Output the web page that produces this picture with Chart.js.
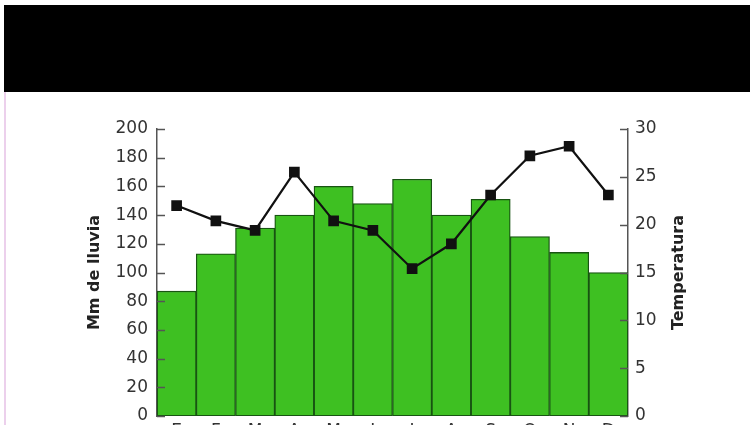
<!DOCTYPE html>
<html>
<head>
<meta charset="utf-8">
<script src="https://cdn.jsdelivr.net/npm/chart.js@4/dist/chart.umd.min.js"></script>
<style>
  html, body { margin: 0; padding: 0; background: #fff; width: 750px; height: 425px; overflow: hidden; }
  #band { position: absolute; left: 4px; top: 5px; width: 746px; height: 87px; background: #000; }
  #edge { position: absolute; left: 4px; top: 92px; width: 2px; height: 333px; background: #ecd0ec; }
  #wrap { position: absolute; left: 0; top: 0; width: 750px; height: 460px; }
</style>
</head>
<body>
<div id="band"></div>
<div id="edge"></div>
<div id="wrap"><canvas id="climograma" width="750" height="460"></canvas></div>
<script>
// meses (etiquetas del eje x)
const meses = ['E', 'F', 'M', 'A', 'M', 'J', 'J', 'A', 'S', 'O', 'N', 'D'];
// precipitación mensual (mm)
const lluvia = [87, 113, 131, 140, 160, 148, 165, 140, 151, 125, 114, 100];
// temperatura media (ºC)
const temperatura = [22, 20.4, 19.4, 25.5, 20.4, 19.4, 15.4, 18, 23.1, 27.2, 28.2, 23.1];

const tickFont = { family: 'DejaVu Sans', size: 17 };

// ticks hacia dentro + títulos de los ejes
const axisExtras = {
  id: 'axisExtras',
  afterDraw(chart) {
    const ctx = chart.ctx;
    const area = chart.chartArea;
    const y = chart.scales.y, y1 = chart.scales.y1;
    ctx.save();
    ctx.strokeStyle = '#555';
    ctx.lineWidth = 1.5;
    y.ticks.forEach(t => {
      const py = Math.round(y.getPixelForValue(t.value)) + 0.5;
      ctx.beginPath(); ctx.moveTo(area.left, py); ctx.lineTo(area.left + 8, py); ctx.stroke();
    });
    y1.ticks.forEach(t => {
      const py = Math.round(y1.getPixelForValue(t.value)) + 0.5;
      ctx.beginPath(); ctx.moveTo(area.right, py); ctx.lineTo(area.right - 8, py); ctx.stroke();
    });
    ctx.fillStyle = '#222';
    ctx.font = 'bold 16px "DejaVu Sans"';
    ctx.textAlign = 'center';
    ctx.textBaseline = 'middle';
    const mid = (area.top + area.bottom) / 2;
    ctx.translate(95, mid); ctx.rotate(-Math.PI / 2);
    ctx.fillText('Mm de lluvia', 0, 0);
    ctx.setTransform(1, 0, 0, 1, 0, 0);
    ctx.translate(679, mid); ctx.rotate(-Math.PI / 2);
    ctx.fillText('Temperatura', 0, 0);
    ctx.restore();
  }
};

new Chart(document.getElementById('climograma').getContext('2d'), {
  data: {
    labels: meses,
    datasets: [{
      type: 'line',
      label: 'Temperatura',
      data: temperatura,
      yAxisID: 'y1',
      borderColor: '#111',
      borderWidth: 2.2,
      pointStyle: 'rect',
      pointRadius: 6,
      pointBackgroundColor: '#111',
      pointBorderColor: '#111',
      tension: 0,
      order: 0
    }, {
      type: 'bar',
      label: 'Mm de lluvia',
      data: lluvia,
      yAxisID: 'y',
      backgroundColor: 'rgb(62, 192, 34)',
      borderColor: 'rgb(24, 84, 18)',
      borderWidth: 1.3,
      borderSkipped: false,
      barPercentage: 1,
      categoryPercentage: 1,
      order: 1
    }]
  },
  options: {
    responsive: false,
    animation: false,
    layout: { padding: { top: 129, left: 0, right: 0, bottom: 0 } },
    plugins: { legend: { display: false }, tooltip: { enabled: false } },
    scales: {
      x: {
        grid: { display: false, drawTicks: false },
        border: { display: false },
        ticks: { font: tickFont, color: '#333', padding: 5, maxRotation: 0 },
        afterFit: s => { s.height = 44; }
      },
      y: {
        position: 'left',
        min: 0, max: 200,
        z: 1,
        grid: { display: false, drawTicks: false },
        border: { display: true, color: '#555', width: 1.5 },
        ticks: { stepSize: 20, font: tickFont, color: '#333', padding: 9 },
        afterFit: s => { s.width = 157; }
      },
      y1: {
        position: 'right',
        min: 0, max: 30,
        z: 1,
        grid: { display: false, drawTicks: false },
        border: { display: true, color: '#555', width: 1.5 },
        ticks: { stepSize: 5, font: tickFont, color: '#333', padding: 7 },
        afterFit: s => { s.width = 122; }
      }
    }
  },
  plugins: [axisExtras]
});
</script>
</body>
</html>
